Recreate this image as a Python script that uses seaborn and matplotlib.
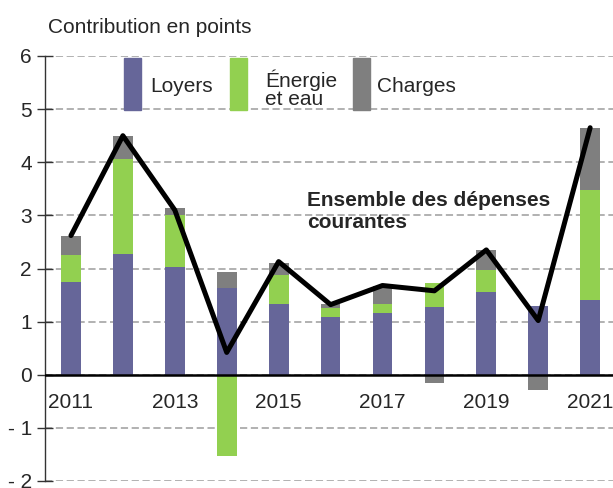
import numpy as np
import matplotlib
matplotlib.use("Agg")
import matplotlib.pyplot as plt
import matplotlib.patches as mpatches
import seaborn as sns

# Contributions annuelles (points)
years = [2011, 2012, 2013, 2014, 2015, 2016, 2017, 2018, 2019, 2020, 2021]
loyers = [1.74, 2.27, 2.03, 1.63, 1.33, 1.08, 1.16, 1.27, 1.55, 1.29, 1.40]
energie = [0.52, 1.79, 0.97, -1.52, 0.54, 0.17, 0.17, 0.45, 0.43, 0.0, 2.07]
charges = [0.36, 0.44, 0.13, 0.31, 0.24, 0.08, 0.35, -0.16, 0.36, -0.28, 1.17]
ensemble = [2.62, 4.50, 3.10, 0.42, 2.13, 1.32, 1.68, 1.58, 2.35, 1.02, 4.65]

series_names = ["Loyers", "Énergie\net eau", "Charges"]
colors = ["#666699", "#92d050", "#7f7f7f"]

sns.set_theme(style="white")
plt.rcParams['font.family'] = ['Liberation Sans', 'DejaVu Sans']

fig = plt.figure(figsize=(6.13, 4.88), dpi=100)
W, H = 613, 488
ax = fig.add_axes([45 / W, 7 / H, 1 - 45 / W, (481 - 56) / H])

x = np.arange(len(years))
pos_base = np.zeros(len(years))
neg_base = np.zeros(len(years))
for vals, col in zip([loyers, energie, charges], colors):
    v = np.array(vals)
    bottoms = np.where(v >= 0, pos_base, neg_base)
    ax.bar(x, v, bottom=bottoms, width=0.38, color=col, edgecolor='none', zorder=2)
    pos_base = pos_base + np.clip(v, 0, None)
    neg_base = neg_base + np.clip(v, None, 0)

sns.lineplot(x=x, y=ensemble, ax=ax, color='black', linewidth=3.6, zorder=4)

ax.set_xlim(-0.5, 10.44)
ax.set_ylim(-2, 6)

# spines / axis setup first (set_position resets tick settings)
ax.spines['top'].set_visible(False)
ax.spines['right'].set_visible(False)
ax.spines['bottom'].set_position(('data', 0))
ax.spines['bottom'].set_visible(False)
ax.spines['left'].set_color('#333333')
ax.spines['left'].set_linewidth(1)

# grid
for yv in range(-2, 7):
    ax.axhline(yv, color='#ababab', linestyle=(0, (4, 2)), linewidth=1.3, zorder=0)
ax.axhline(0, color='black', linewidth=1.8, zorder=3)

ax.set_yticks(range(-2, 7))
ax.set_yticklabels(['- 2', '- 1', '0', '1', '2', '3', '4', '5', '6'])
ax.tick_params(axis='y', direction='inout', length=11, width=1, color='#333333',
               pad=4, left=True, labelsize=15)

ax.set_xticks(x[::2])
ax.set_xticklabels([str(y) for y in years[::2]])
ax.tick_params(axis='x', length=0, pad=13, labelsize=15, bottom=True)

fig.text(48 / W, 1 - 33 / H, "Contribution en points", fontsize=15, va='baseline', ha='left')

# legend made of tall thin bars
leg_x = [124, 230, 353]
txt_x = [150, 265, 377]
txt_y = [92, 105, 92]
for lx, tx, ty, col, name in zip(leg_x, txt_x, txt_y, colors, series_names):
    fig.patches.append(mpatches.Rectangle((lx / W, 1 - 110 / H), 17 / W, 52 / H,
                                          transform=fig.transFigure, color=col))
    fig.text(tx / W, 1 - ty / H, name, fontsize=15, va='baseline', ha='left',
             linespacing=0.95)

fig.text(307 / W, 1 - 228 / H, "Ensemble des dépenses\ncourantes",
         fontsize=15, fontweight='bold', va='baseline', ha='left', linespacing=1.2)

fig.savefig("out.png", dpi=100, facecolor='white')
